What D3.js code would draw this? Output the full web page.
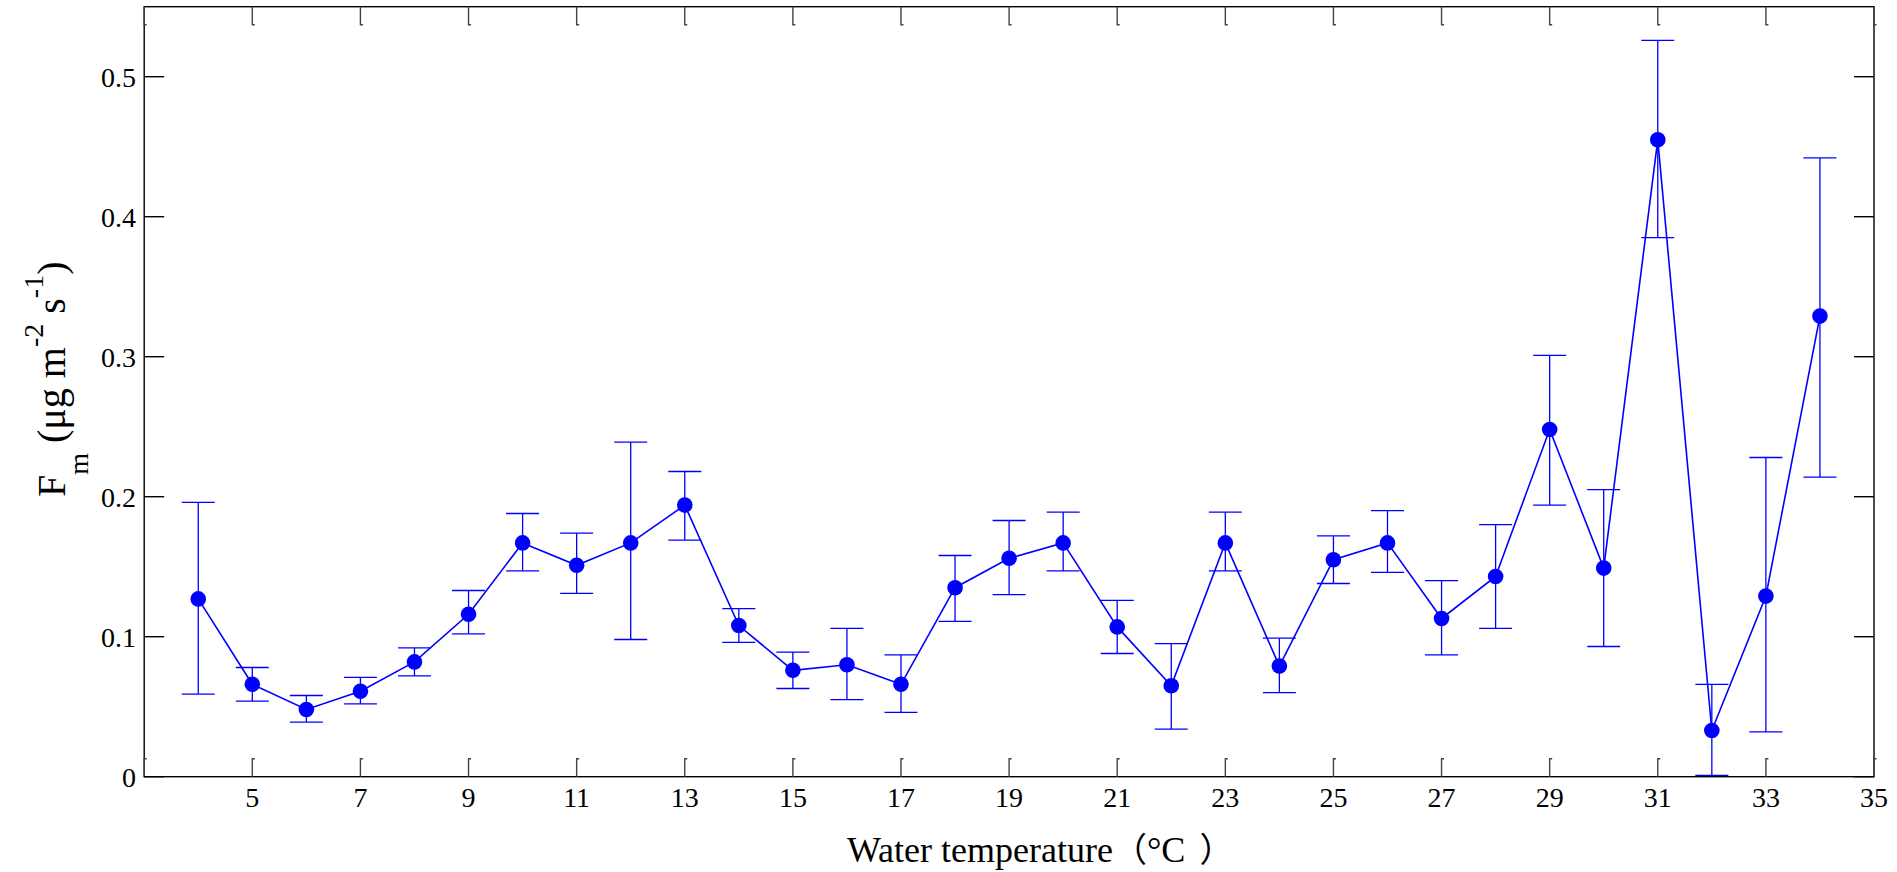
<!DOCTYPE html>
<html>
<head>
<meta charset="utf-8">
<script src="https://cdn.jsdelivr.net/npm/d3@7"></script>
<style>
  html, body { margin: 0; padding: 0; background: #fff; }
  svg { display: block; }
  text { font-family: "Liberation Serif", "Times New Roman", serif; fill: #000; }
</style>
</head>
<body>
<svg id="chart" width="1897" height="872"></svg>
<script>
// Water temperature (°C) bins
const temps = [4,5,6,7,8,9,10,11,12,13,14,15,16,17,18,19,20,21,22,23,24,25,26,27,28,29,30,31,32,33,34];
// Mean flux Fm (µg m^-2 s^-1)
const means = [0.127,0.066,0.048,0.061,0.082,0.116,0.167,0.151,0.167,0.194,0.108,0.076,0.080,0.066,0.135,0.156,0.167,0.107,0.065,0.167,0.079,0.155,0.167,0.113,0.143,0.248,0.149,0.455,0.033,0.129,0.329];
// Upper and lower ends of the error bars
const upper = [0.196,0.078,0.058,0.071,0.092,0.133,0.188,0.174,0.239,0.218,0.120,0.089,0.106,0.087,0.158,0.183,0.189,0.126,0.095,0.189,0.099,0.172,0.190,0.140,0.180,0.301,0.205,0.526,0.066,0.228,0.442];
const lower = [0.059,0.054,0.039,0.052,0.072,0.102,0.147,0.131,0.098,0.169,0.096,0.063,0.055,0.046,0.111,0.130,0.147,0.088,0.034,0.147,0.060,0.138,0.146,0.087,0.106,0.194,0.093,0.385,0.001,0.032,0.214];
// Axis ticks
const xTicks = [3,5,7,9,11,13,15,17,19,21,23,25,27,29,31,33,35];
const xTickLabels = ["","5","7","9","11","13","15","17","19","21","23","25","27","29","31","33","35"];
const yTicks = [0,0.1,0.2,0.3,0.4,0.5];
const yTickLabels = ["0","0.1","0.2","0.3","0.4","0.5"];

const svg = d3.select("#chart");
const L = 144.2, R = 1874, T = 6.7, B = 776.7;

const x = d3.scaleLinear().domain([3, 35]).range([L, R]);
const y = d3.scaleLinear().domain([0, 0.55]).range([B, T]);

const blue = "#0000ff";

// Plot box
svg.append("rect")
  .attr("x", L).attr("y", T).attr("width", R - L).attr("height", B - T)
  .attr("fill", "none").attr("stroke", "#000").attr("stroke-width", 1.4);

// X ticks, bottom (pointing up) and top (pointing down)
const tickLen = 18;
const xt = svg.append("g").attr("stroke", "#444").attr("stroke-width", 1.4).attr("fill", "none");
xTicks.forEach(t => {
  const px = x(t);
  xt.append("path").attr("d", `M${px},${B} V${B - tickLen} h2.5`);
  xt.append("path").attr("d", `M${px},${T} V${T + tickLen} h2.5`);
});

// Y ticks, left (pointing right) and right (pointing left)
const yt = svg.append("g").attr("stroke", "#000").attr("stroke-width", 1.4).attr("fill", "none");
yTicks.forEach(v => {
  const py = y(v);
  yt.append("path").attr("d", `M${L},${py} H${L + 20}`);
  yt.append("path").attr("d", `M${R},${py} H${R - 20}`);
});

// Tick labels
svg.append("g").selectAll("text").data(xTicks).join("text")
  .attr("x", d => x(d)).attr("y", 806.5)
  .attr("text-anchor", "middle").attr("font-size", 28)
  .text((d, i) => xTickLabels[i]);

svg.append("g").selectAll("text").data(yTicks).join("text")
  .attr("x", 136).attr("y", d => y(d) + 10)
  .attr("text-anchor", "end").attr("font-size", 28)
  .text((d, i) => yTickLabels[i]);

// Error bars
const capHalf = 16.5;
const eb = svg.append("g").attr("stroke", blue).attr("stroke-width", 1.3).attr("fill", "none");
temps.forEach((t, i) => {
  const px = x(t);
  eb.append("line").attr("x1", px).attr("x2", px).attr("y1", y(upper[i])).attr("y2", y(lower[i]));
  eb.append("line").attr("x1", px - capHalf).attr("x2", px + capHalf).attr("y1", y(upper[i])).attr("y2", y(upper[i]));
  eb.append("line").attr("x1", px - capHalf).attr("x2", px + capHalf).attr("y1", y(lower[i])).attr("y2", y(lower[i]));
});

// Connecting line
const line = d3.line().x((d, i) => x(temps[i])).y(d => y(d));
svg.append("path").datum(means)
  .attr("d", line).attr("fill", "none").attr("stroke", blue).attr("stroke-width", 1.6);

// Markers
svg.append("g").selectAll("circle").data(means).join("circle")
  .attr("cx", (d, i) => x(temps[i])).attr("cy", d => y(d))
  .attr("r", 7.8).attr("fill", blue);

// X axis title with full-width brackets around the degree sign
const xl = svg.append("text")
  .attr("x", 847).attr("y", 861.5).attr("font-size", 36);
xl.append("tspan").text("Water temperature");
xl.append("tspan").style("font-family", "'Noto Sans CJK SC', sans-serif").attr("font-size", 34).text("（");
xl.append("tspan").attr("dx", 0).text("°C");
xl.append("tspan").attr("dx", 14).style("font-family", "'Noto Sans CJK SC', sans-serif").attr("font-size", 34).text("）");

// Y axis title: F_m (µg m^-2 s^-1)
const yl = svg.append("text")
  .attr("transform", "translate(65,497) rotate(-90)")
  .attr("font-size", 40);
yl.append("tspan").text("F");
yl.append("tspan").attr("font-size", 28).attr("dy", 23).text("m");
yl.append("tspan").attr("dy", -23).text(" (μg m");
yl.append("tspan").attr("font-size", 28).attr("dy", -22).text("-2");
yl.append("tspan").attr("dy", 22).text(" s");
yl.append("tspan").attr("font-size", 28).attr("dy", -22).text("-1");
yl.append("tspan").attr("dy", 22).text(")");
</script>
</body>
</html>
